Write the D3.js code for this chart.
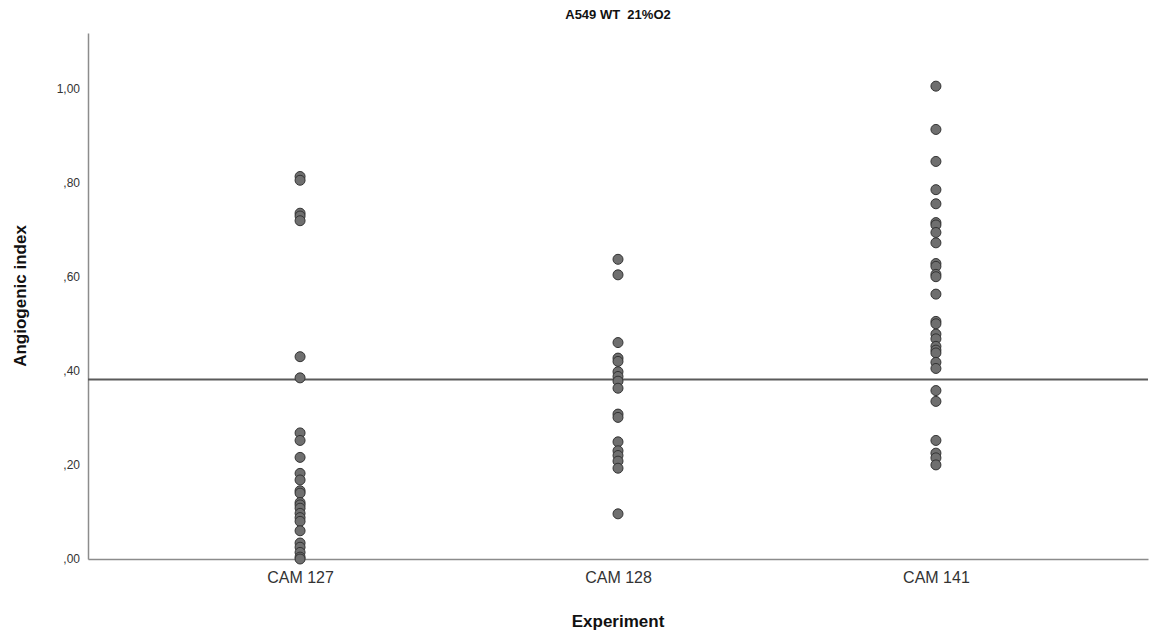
<!DOCTYPE html>
<html>
<head>
<meta charset="utf-8">
<script src="https://cdn.jsdelivr.net/npm/d3@7"></script>
<style>
  body { margin: 0; background: #fff; }
  svg { font-family: "Liberation Sans", Arial, sans-serif; }
  .tick text { fill: #333; }
</style>
</head>
<body>
<svg id="chart" width="1150" height="639"></svg>
<script>
const experiments = ['CAM 127', 'CAM 128', 'CAM 141'];

const cam127 = [0.813, 0.805, 0.735, 0.729, 0.719, 0.430, 0.385, 0.268, 0.252, 0.216,
  0.182, 0.168, 0.145, 0.140, 0.120, 0.115, 0.108, 0.097, 0.088, 0.080, 0.060,
  0.034, 0.025, 0.014, 0.004, 0.0];
const cam128 = [0.637, 0.604, 0.460, 0.427, 0.420, 0.398, 0.388, 0.378, 0.363, 0.308,
  0.301, 0.249, 0.230, 0.220, 0.208, 0.193, 0.096];
const cam141 = [1.005, 0.913, 0.845, 0.785, 0.755, 0.715, 0.710, 0.694, 0.672, 0.628,
  0.622, 0.605, 0.600, 0.563, 0.505, 0.500, 0.478, 0.468, 0.452, 0.444, 0.438,
  0.418, 0.405, 0.358, 0.335, 0.252, 0.225, 0.215, 0.200];

const yTicks = [0, 0.2, 0.4, 0.6, 0.8, 1.0];
const referenceLine = 0.3815;

const svg = d3.select('#chart');
const plotLeft = 88, plotRight = 1148, plotTop = 33, plotBottom = 559;

const x = d3.scalePoint()
  .domain(experiments)
  .range([plotLeft, plotRight])
  .padding(0.667);

const y = d3.scaleLinear()
  .domain([0, 1.118])
  .range([plotBottom, plotTop]);

const fmt = v => (v >= 1 ? d3.format('.2f')(v) : d3.format('.2f')(v).replace(/^0/, '')).replace('.', ',');

// axes
const yAxis = svg.append('g')
  .attr('transform', `translate(${plotLeft},0)`)
  .call(d3.axisLeft(y).tickValues(yTicks).tickSize(0).tickSizeOuter(0).tickPadding(8).tickFormat(fmt));
yAxis.select('.domain').attr('stroke', '#8c8c8c').attr('stroke-width', 1.5);
yAxis.selectAll('text').attr('font-size', 12);

const xAxis = svg.append('g')
  .attr('transform', `translate(0,${plotBottom})`)
  .call(d3.axisBottom(x).tickSize(0).tickSizeOuter(0).tickPadding(13));
xAxis.select('.domain').attr('stroke', '#8c8c8c').attr('stroke-width', 1.5);
xAxis.selectAll('text').attr('font-size', 16);

// reference line
svg.append('line')
  .attr('x1', plotLeft).attr('x2', plotRight)
  .attr('y1', y(referenceLine)).attr('y2', y(referenceLine))
  .attr('stroke', '#5a5a5a')
  .attr('stroke-width', 2);

// points
const series = [cam127, cam128, cam141];
series.forEach((vals, i) => {
  svg.append('g').selectAll('circle')
    .data(vals)
    .enter()
    .append('circle')
    .attr('cx', x(experiments[i]))
    .attr('cy', d => y(d))
    .attr('r', 5)
    .attr('fill', '#6f6f6f')
    .attr('stroke', '#333')
    .attr('stroke-width', 1);
});

// titles
svg.append('text')
  .attr('x', 618).attr('y', 19)
  .attr('text-anchor', 'middle')
  .attr('font-size', 13)
  .attr('font-weight', 'bold')
  .attr('fill', '#111')
  .style('white-space', 'pre')
  .text('A549 WT  21%O2');

svg.append('text')
  .attr('x', 618).attr('y', 627)
  .attr('text-anchor', 'middle')
  .attr('font-size', 17)
  .attr('font-weight', 'bold')
  .attr('fill', '#111')
  .text('Experiment');

svg.append('text')
  .attr('transform', `translate(26,${(plotTop + plotBottom) / 2}) rotate(-90)`)
  .attr('text-anchor', 'middle')
  .attr('font-size', 17)
  .attr('font-weight', 'bold')
  .attr('fill', '#111')
  .text('Angiogenic index');
</script>
</body>
</html>
